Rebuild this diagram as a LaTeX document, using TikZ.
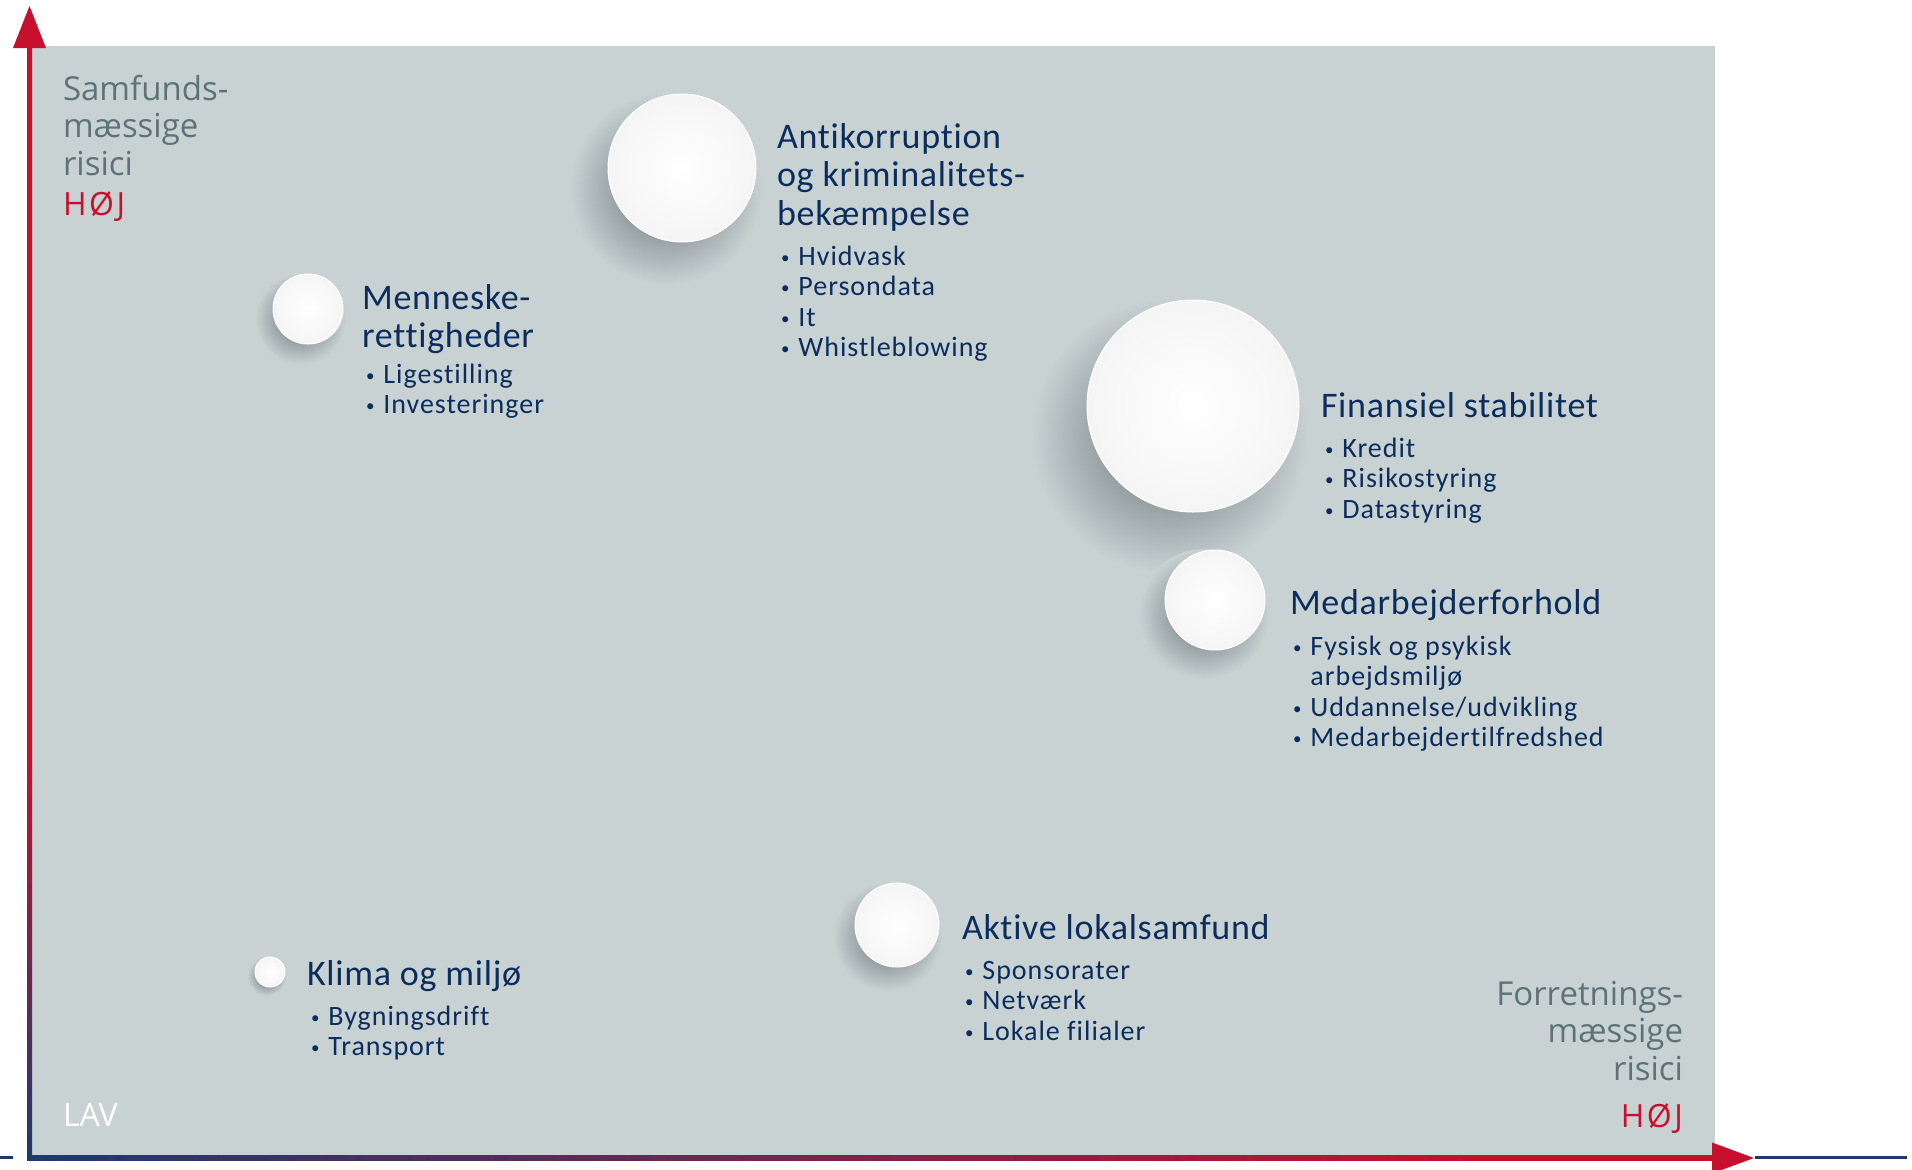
\documentclass[tikz,border=0pt]{standalone}
\usepackage{fontspec}
\setmainfont{Carlito}
\newfontfamily\axisfont{Open Sans}
\newfontfamily\levelfont[LetterSpace=8]{Open Sans}
\newfontfamily\topicfont[LetterSpace=2,Ligatures=NoCommon]{Carlito}
\newfontfamily\itemfont[LetterSpace=3.5,Ligatures=NoCommon]{Carlito}
\usetikzlibrary{calc}
\definecolor{bgcol}{HTML}{C8D2D3}
\definecolor{navy}{HTML}{0B2D5E}
\definecolor{riskred}{HTML}{C8102E}
\definecolor{axisblue}{HTML}{1D3A6E}
\definecolor{labelgray}{HTML}{5E7377}
\definecolor{shadowcol}{HTML}{949DA0}
\pgfdeclareradialshading{bubshadow}{\pgfpoint{0bp}{0bp}}{color(0bp)=(shadowcol); color(12bp)=(shadowcol); color(25bp)=(bgcol); color(50bp)=(bgcol)}
\pgfdeclareverticalshading{vaxis}{100bp}{color(0bp)=(axisblue); color(25bp)=(axisblue); color(43bp)=(riskred); color(100bp)=(riskred)}
\pgfdeclarehorizontalshading{haxis}{100bp}{color(0bp)=(axisblue); color(25bp)=(axisblue); color(68bp)=(riskred); color(100bp)=(riskred)}
\newcommand{\itm}{{\fontsize{17}{17}\selectfont\raisebox{2pt}{\textbullet}}}

\begin{document}
\begin{tikzpicture}[x=1pt,y=-1pt,inner sep=0pt,outer sep=0pt,
bubble/.style={circle,inner sep=0pt,inner color=white,outer color=black!4!white,draw=white,line width=1pt},
topic/.style={anchor=base west,text=navy,font=\topicfont\fontsize{36}{38.5}\selectfont},
itemlist/.style={anchor=base west,text=navy,font=\itemfont\fontsize{28}{30.5}\selectfont},
axislabel/.style={text=labelgray,font=\axisfont\fontsize{33}{37.5}\selectfont},
level/.style={font=\axisfont\fontsize{32}{37.5}\selectfont}]
\useasboundingbox (0,0) rectangle (1912,1170);
\fill[bgcol] (30,46) rectangle (1715,1156);

% axes
\shade[shading=haxis] (27,1155) rectangle (1716,1160);
\shade[shading=vaxis] (27,44) rectangle (32,1160);
\fill[riskred] (13,48) -- (29.5,6) -- (46,48) -- cycle;
\fill[riskred] (1712,1142.5) -- (1754,1158) -- (1712,1173.5) -- cycle;
\draw[axisblue,line width=2.5pt] (0,1157.5) -- (13,1157.5);
\draw[axisblue,line width=2.5pt] (1755,1157.5) -- (1907,1157.5);

% bubbles with their shadows
\foreach \n/\x/\y/\r in {anti/682/168/74, menn/308/309/35, fin/1193/406/106,
  med/1215/600/50, akt/897/925/42, klima/270/972/15}{
  \shade[shading=bubshadow] (\x-0.22*\r,\y+0.28*\r) circle ({1.3*\r});
  \node[bubble,minimum size=2*\r] (\n) at (\x,\y) {};
}

% axis labels
\node[axislabel,anchor=base west] (ylabel) at (63,100) {\begin{tabular}[t]{@{}l@{}}Samfunds-\\mæssige\\risici\end{tabular}};
\node[level,anchor=base west,text=riskred] (yhigh) at (63,215) {\levelfont HØJ};
\node[level,anchor=base west,text=white] (low) at (63,1126) {LAV};
\node[axislabel,anchor=base east] (xlabel) at (1683,1005) {\begin{tabular}[t]{@{}r@{}}Forretnings-\\mæssige\\risici\end{tabular}};
\node[level,anchor=base east,text=riskred] (xhigh) at (1683,1127) {\levelfont HØJ};

% topics
\node[topic] (antitxt) at (777,148) {\begin{tabular}[t]{@{}l@{}}Antikorruption\\og kriminalitets-\\bekæmpelse\end{tabular}};
\node[itemlist] (antilist) at (781,265) {\begin{tabular}[t]{@{}l@{\hspace{9pt}}l@{}}\itm & Hvidvask\\ \itm & Persondata\\ \itm & It\\ \itm & Whistleblowing\end{tabular}};

\node[topic] (menntxt) at (362,309) {\begin{tabular}[t]{@{}l@{}}Menneske-\\rettigheder\end{tabular}};
\node[itemlist] (mennlist) at (366,383) {\begin{tabular}[t]{@{}l@{\hspace{9pt}}l@{}}\itm & Ligestilling\\ \itm & Investeringer\end{tabular}};

\node[topic] (fintxt) at (1321,417) {Finansiel stabilitet};
\node[itemlist] (finlist) at (1325,457) {\begin{tabular}[t]{@{}l@{\hspace{9pt}}l@{}}\itm & Kredit\\ \itm & Risikostyring\\ \itm & Datastyring\end{tabular}};

\node[topic] (medtxt) at (1290,614) {Medarbejderforhold};
\node[itemlist] (medlist) at (1293,655) {\begin{tabular}[t]{@{}l@{\hspace{9pt}}l@{}}\itm & Fysisk og psykisk\\ & arbejdsmiljø\\ \itm & Uddannelse/udvikling\\ \itm & Medarbejdertilfredshed\end{tabular}};

\node[topic] (akttxt) at (962,939) {Aktive lokalsamfund};
\node[itemlist] (aktlist) at (965,979) {\begin{tabular}[t]{@{}l@{\hspace{9pt}}l@{}}\itm & Sponsorater\\ \itm & Netværk\\ \itm & Lokale filialer\end{tabular}};

\node[topic] (klimatxt) at (307,985) {Klima og miljø};
\node[itemlist] (klimalist) at (311,1025) {\begin{tabular}[t]{@{}l@{\hspace{9pt}}l@{}}\itm & Bygningsdrift\\ \itm & Transport\end{tabular}};

\end{tikzpicture}
\end{document}
